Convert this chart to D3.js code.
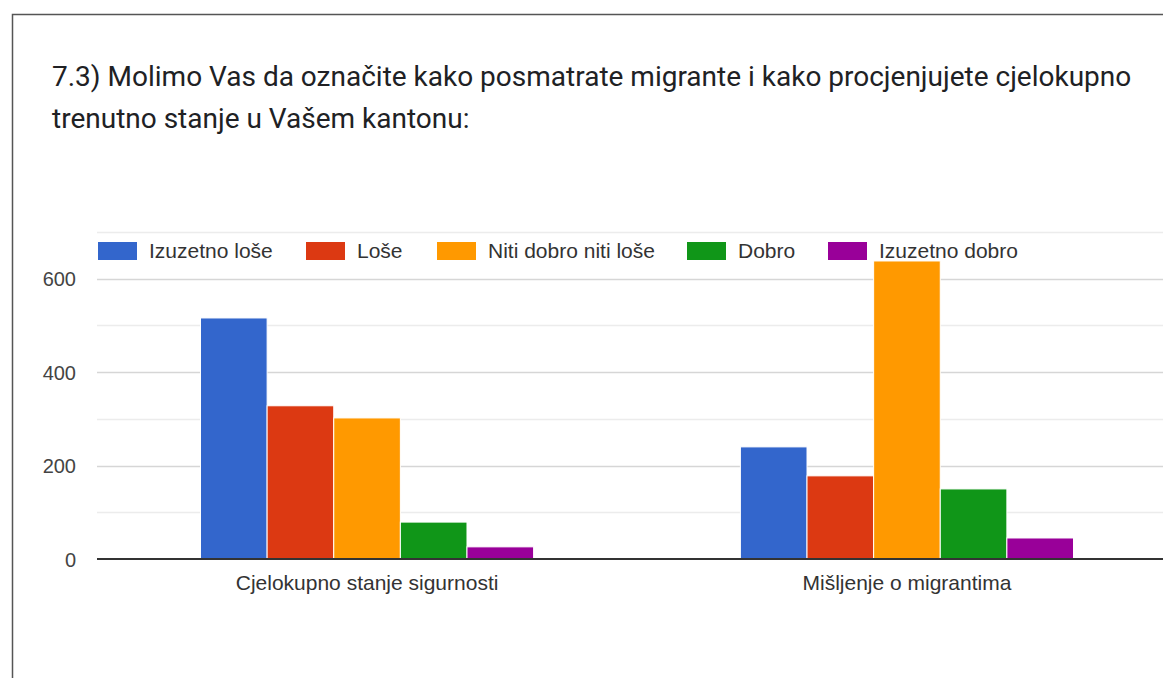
<!DOCTYPE html>
<html>
<head>
<meta charset="utf-8">
<script src="https://cdn.jsdelivr.net/npm/d3@7"></script>
<style>
    body { margin: 0; background: #fff; }
    svg { display: block; }
</style>
</head>
<body>
<div id="chart"></div>
<script>
const categories = ["Cjelokupno stanje sigurnosti", "Mišljenje o migrantima"];
const seriesNames = ["Izuzetno loše", "Loše", "Niti dobro niti loše", "Dobro", "Izuzetno dobro"];
const seriesColors = ["#3366cc", "#dc3912", "#ff9900", "#109618", "#990099"];
const izuzetnoLose = [516, 240];
const lose = [328, 178];
const nitiDobroNitiLose = [302, 638];
const dobro = [79, 150];
const izuzetnoDobro = [26, 45];
const yTicks = [0, 200, 400, 600];
const gridTicks = [0, 100, 200, 300, 400, 500, 600, 700];
const titleLines = [
    "7.3) Molimo Vas da označite kako posmatrate migrante i kako procjenjujete cjelokupno",
    "trenutno stanje u Vašem kantonu:"
];

const seriesValues = [izuzetnoLose, lose, nitiDobroNitiLose, dobro, izuzetnoDobro];

const width = 1163, height = 678;
const svg = d3.select("#chart").append("svg")
    .attr("width", width)
    .attr("height", height);

// frame (cropped screenshot: only top and left edges show)
svg.append("path")
    .attr("d", "M12.5," + height + "V14.5H" + width)
    .attr("fill", "none")
    .attr("stroke", "#555")
    .attr("stroke-width", 1.5);

// title
svg.append("g").selectAll("text")
    .data(titleLines)
    .enter().append("text")
    .attr("x", 52)
    .attr("y", (d, i) => 86 + i * 42)
    .attr("font-family", "Roboto, Arial, sans-serif")
    .attr("font-size", 28)
    .attr("fill", "#202124")
    .text(d => d);

const plotLeft = 97, plotRight = 1177;

const y = d3.scaleLinear().domain([0, 700]).range([559, 232]);

const x0 = d3.scaleBand()
    .domain(categories)
    .range([plotLeft, plotRight])
    .paddingInner(0.383)
    .paddingOuter(0.1917);

const x1 = d3.scaleBand()
    .domain(seriesNames)
    .range([0, x0.bandwidth()]);

const color = d3.scaleOrdinal().domain(seriesNames).range(seriesColors);

// gridlines
svg.append("g").selectAll("line")
    .data(gridTicks.filter(d => d > 0))
    .enter().append("line")
    .attr("x1", plotLeft)
    .attr("x2", width)
    .attr("y1", d => Math.round(y(d)) + 0.5)
    .attr("y2", d => Math.round(y(d)) + 0.5)
    .attr("stroke", d => d % 200 === 0 ? "#d6d6d6" : "#ececec")
    .attr("stroke-width", 1.5);

// y axis labels
const yAxis = d3.axisLeft(y).tickValues(yTicks).tickSize(0).tickPadding(0);
const yg = svg.append("g")
    .attr("transform", "translate(76,0)")
    .call(yAxis);
yg.select(".domain").remove();
yg.selectAll("text")
    .attr("dy", "0.36em")
    .attr("font-family", "Arial, 'Liberation Sans', sans-serif")
    .attr("font-size", 20)
    .attr("fill", "#444");

// bars
const rows = categories.map((c, i) => ({
    cat: c,
    vals: seriesNames.map((s, j) => ({ name: s, value: seriesValues[j][i] }))
}));

const groups = svg.append("g").selectAll("g")
    .data(rows)
    .enter().append("g")
    .attr("transform", d => "translate(" + x0(d.cat) + ",0)");

groups.selectAll("rect")
    .data(d => d.vals)
    .enter().append("rect")
    .attr("x", d => x1(d.name))
    .attr("y", d => y(d.value))
    .attr("width", x1.bandwidth())
    .attr("height", d => y(0) - y(d.value))
    .attr("fill", d => color(d.name))
    .attr("stroke", "#fff")
    .attr("stroke-width", 1);

// baseline
svg.append("line")
    .attr("x1", plotLeft)
    .attr("x2", width)
    .attr("y1", y(0))
    .attr("y2", y(0))
    .attr("stroke", "#333")
    .attr("stroke-width", 2);

// x axis labels
const xAxis = d3.axisBottom(x0).tickSize(0).tickPadding(0);
const xg = svg.append("g")
    .attr("transform", "translate(0,575)")
    .call(xAxis);
xg.select(".domain").remove();
xg.selectAll("text")
    .attr("dy", "0.71em")
    .attr("font-family", "Arial, 'Liberation Sans', sans-serif")
    .attr("font-size", 21)
    .attr("fill", "#333");

// legend
const legendX = [98, 306, 437, 687, 828];
const legend = svg.append("g").selectAll("g")
    .data(seriesNames)
    .enter().append("g")
    .attr("transform", (d, i) => "translate(" + legendX[i] + ",242)");

legend.append("rect")
    .attr("width", 39)
    .attr("height", 18)
    .attr("fill", d => color(d));

legend.append("text")
    .attr("x", 51)
    .attr("y", 16)
    .attr("font-family", "Arial, 'Liberation Sans', sans-serif")
    .attr("font-size", 21)
    .attr("fill", "#333")
    .text(d => d);
</script>
</body>
</html>
